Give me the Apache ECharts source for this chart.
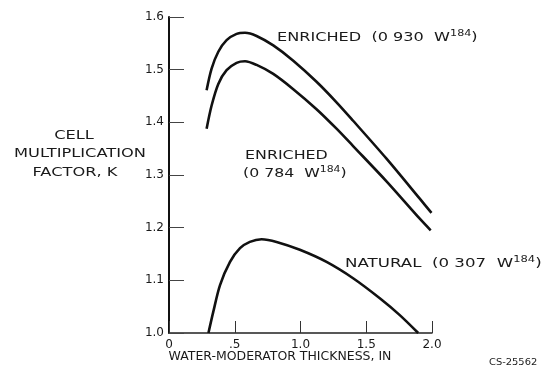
<!DOCTYPE html>
<html>
<head>
<meta charset="utf-8">
<script src="https://cdn.jsdelivr.net/npm/echarts@6/dist/echarts.min.js"></script>
<style>html,body{margin:0;padding:0;background:#fff;}#c{width:546px;height:372px;}</style>
</head>
<body>
<div id="c"></div>
<script>
// Water-moderator thickness, in  ->  cell multiplication factor, k
const enriched930X = [0.286, 0.324, 0.375, 0.438, 0.514, 0.578, 0.666, 0.793, 0.945, 1.122, 1.274, 1.40, 1.654, 1.907, 1.996];
const enriched930Y = [1.461, 1.502, 1.534, 1.556, 1.568, 1.570, 1.564, 1.546, 1.517, 1.477, 1.438, 1.403, 1.331, 1.255, 1.228];
const enriched784X = [0.286, 0.324, 0.375, 0.438, 0.514, 0.578, 0.666, 0.793, 0.945, 1.122, 1.274, 1.40, 1.654, 1.907, 1.99];
const enriched784Y = [1.388, 1.432, 1.473, 1.499, 1.513, 1.516, 1.509, 1.492, 1.463, 1.425, 1.388, 1.355, 1.288, 1.217, 1.195];
const naturalX = [0.30, 0.337, 0.388, 0.464, 0.54, 0.615, 0.704, 0.818, 0.995, 1.198, 1.40, 1.603, 1.755, 1.895];
const naturalY = [1.0, 1.0405, 1.091, 1.135, 1.161, 1.173, 1.178, 1.173, 1.158, 1.135, 1.104, 1.066, 1.034, 1.0];
const xTickLabels = {0: '0', 0.5: '.5', 1: '1.0', 1.5: '1.5', 2: '2.0'};

const pairs = (xs, ys) => xs.map((x, i) => [x, ys[i]]);
const FONT = 'DejaVu Sans';
const INK = '#1a1a1a';

const chart = echarts.init(document.getElementById('c'));
const lineStyle = {color: '#111', width: 2.6};
const mk = (name, d) => ({
  name, type: 'line', data: d, smooth: 0.3, showSymbol: false, symbol: 'none',
  lineStyle, silent: true
});
const supRich = {
  n: {fontFamily: FONT, fontSize: 13, color: INK},
  s: {fontFamily: FONT, fontSize: 9, color: INK, padding: [0, 0, 9, 0]}
};
const txt = (x, y, text, sx, size) => ({
  type: 'text', x, y, scaleX: sx || 1.25, silent: true,
  style: {text, rich: supRich, font: (size || 13) + 'px "' + FONT + '"', fill: INK, verticalAlign: 'middle', align: 'left'}
});
const ctxt = (cx, y, text, sx) => ({
  type: 'text', x: cx, y, scaleX: sx || 1.25, silent: true,
  style: {text, font: '13px "' + FONT + '"', fill: INK, verticalAlign: 'middle', align: 'center'}
});

chart.setOption({
  animation: false,
  backgroundColor: '#fff',
  grid: {left: 169, right: 114, top: 17, bottom: 39, containLabel: false},
  xAxis: {
    type: 'value', min: 0, max: 2, interval: 0.5,
    axisLine: {onZero: false, lineStyle: {color: '#222', width: 1.5}},
    axisTick: {inside: true, length: 12, lineStyle: {color: '#333', width: 1}},
    axisLabel: {formatter: v => xTickLabels[v], fontFamily: FONT, fontSize: 12, color: INK, margin: 6},
    splitLine: {show: false}
  },
  yAxis: {
    type: 'value', min: 1.0, max: 1.6, interval: 0.1,
    axisLine: {show: true, lineStyle: {color: '#111', width: 2}},
    axisTick: {show: true, inside: true, length: 15, lineStyle: {color: '#444', width: 1}},
    axisLabel: {formatter: v => v.toFixed(1), fontFamily: FONT, fontSize: 12, color: INK, margin: 5},
    splitLine: {show: false}
  },
  series: [
    mk('ENRICHED (0 930 W184)', pairs(enriched930X, enriched930Y)),
    mk('ENRICHED (0 784 W184)', pairs(enriched784X, enriched784Y)),
    mk('NATURAL (0 307 W184)', pairs(naturalX, naturalY))
  ],
  graphic: [
    ctxt(74, 136, 'CELL'),
    ctxt(80, 154, 'MULTIPLICATION'),
    ctxt(75, 173, 'FACTOR, K'),
    txt(277, 38, '{n|ENRICHED  (0 930  W}{s|184}{n|)}', 1.24),
    txt(245, 156, 'ENRICHED', 1.22),
    txt(243, 174, '{n|(0 784  W}{s|184}{n|)}', 1.21),
    txt(345, 264, '{n|NATURAL  (0 307  W}{s|184}{n|)}', 1.28),
    ctxt(280, 357, 'WATER-MODERATOR THICKNESS, IN', 0.96),
    {type: 'text', x: 489, y: 363, scaleX: 1.1, silent: true, style: {text: 'CS-25562', font: '9px "' + FONT + '"', fill: INK, verticalAlign: 'middle'}}
  ]
});
</script>
</body>
</html>
